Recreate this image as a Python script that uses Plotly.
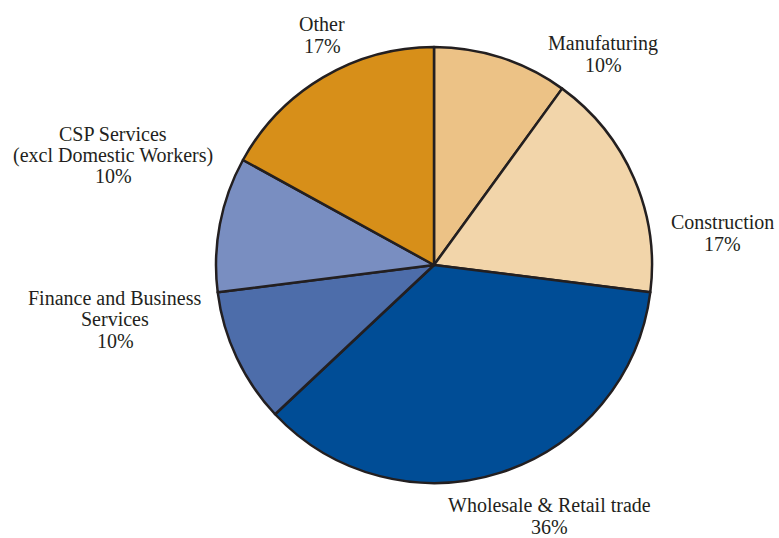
import plotly.graph_objects as go

# Sector shares of employment (per cent), clockwise from 12 o'clock
sectors = [
    "Manufaturing",
    "Construction",
    "Wholesale & Retail trade",
    "Finance and Business|Services",
    "CSP Services|(excl Domestic Workers)",
    "Other",
]
shares = [10, 17, 36, 10, 10, 17]
colors = ["#ECC286", "#F2D5AA", "#004D96", "#4D6DAA", "#798EC1", "#D78F19"]

# label block centres in pixels (x, y) on a 779x538 canvas
label_pos = [
    (603, 54),
    (722, 233),
    (549, 516),
    (115, 319),
    (113, 155),
    (322, 35),
]
LINE_GAP = 21.5
FONT = dict(family="Liberation Serif, Times New Roman, serif", size=20, color="#231F20")

W, H = 779, 538
cx, cy, r = 434, 265, 218

fig = go.Figure(
    go.Pie(
        labels=[s.replace("|", " ") for s in sectors],
        values=shares,
        sort=False,
        direction="clockwise",
        rotation=0,
        textinfo="none",
        hoverinfo="label+percent",
        marker=dict(colors=colors, line=dict(color="#231F20", width=2.5)),
        domain=dict(
            x=[(cx - r) / W, (cx + r) / W],
            y=[1 - (cy + r) / H, 1 - (cy - r) / H],
        ),
        showlegend=False,
    )
)

# each label line is its own annotation so the leading stays tight
for name, val, (px, py) in zip(sectors, shares, label_pos):
    lines = name.split("|") + [f"{val}%"]
    top = py - LINE_GAP * (len(lines) - 1) / 2
    for i, line in enumerate(lines):
        ly = top + i * LINE_GAP
        fig.add_annotation(
            x=px / W,
            y=1 - ly / H,
            xref="paper",
            yref="paper",
            text=line,
            showarrow=False,
            xanchor="center",
            yanchor="middle",
            font=FONT,
        )

fig.update_layout(
    width=W,
    height=H,
    margin=dict(l=0, r=0, t=0, b=0),
    paper_bgcolor="white",
    plot_bgcolor="white",
)

fig.write_html("out.html")
